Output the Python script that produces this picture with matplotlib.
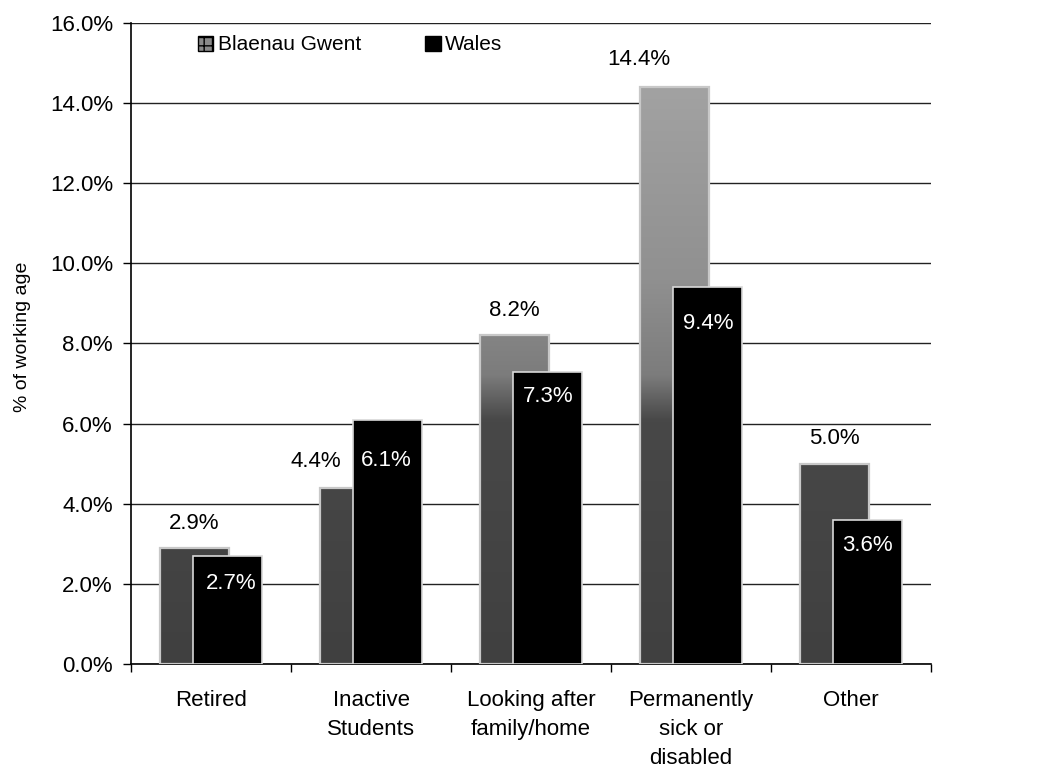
import numpy as np
import matplotlib
matplotlib.use("Agg")
import matplotlib.pyplot as plt
from matplotlib.colors import LinearSegmentedColormap
from matplotlib.patches import Patch

plt.rcParams["font.family"] = ["Liberation Sans", "DejaVu Sans"]

# Economic inactivity by reason, % of working-age population
categories = ["Retired", "Inactive\nStudents", "Looking after\nfamily/home",
              "Permanently\nsick or\ndisabled", "Other"]
blaenau_gwent = [2.9, 4.4, 8.2, 14.4, 5.0]
wales = [2.7, 6.1, 7.3, 9.4, 3.6]
series_names = ["Blaenau Gwent", "Wales"]
y_ticks = [0, 2, 4, 6, 8, 10, 12, 14, 16]

fig = plt.figure(figsize=(10.54, 7.7), dpi=100)
ax = fig.add_axes([0.1243, 0.1377, 0.7590, 0.8325])

x = np.arange(len(categories))
width = 0.43
shift = 0.105

# grey graded fill used by the Blaenau Gwent bars (lighter higher up)
grey_cmap = LinearSegmentedColormap.from_list(
    "bg_grey",
    [(0.0, "#404040"), (0.38, "#484848"), (0.45, "#7c7c7c"),
     (0.6, "#909090"), (1.0, "#a8a8a8")])

bg_bars = ax.bar(x - shift, blaenau_gwent, width, facecolor="none",
                 edgecolor="#c8c8c8", linewidth=1.6, zorder=3)
grad = np.linspace(0, 1, 256).reshape(-1, 1)
for bar in bg_bars:
    x0 = bar.get_x()
    im = ax.imshow(grad, extent=[x0, x0 + bar.get_width(), 0, 16],
                   origin="lower", aspect="auto", cmap=grey_cmap,
                   vmin=0, vmax=1, zorder=2.5, interpolation="bilinear")
    im.set_clip_path(bar)

w_bars = ax.bar(x + shift, wales, width, color="black",
                edgecolor="#d8d8d8", linewidth=1.2, zorder=4)

# value labels
label_size = 16
bg_offsets = [(0, 24), (-38, 26), (0, 25), (-35, 28), (0, 25)]
for xi, v, off in zip(x - shift, blaenau_gwent, bg_offsets):
    ax.annotate(f"{v:.1f}%", (xi, v), xytext=off, textcoords="offset pixels",
                ha="center", va="center", fontsize=label_size, color="black",
                zorder=5)

w_offsets = [(3, -28), (-2, -41), (0, -25), (0, -36), (0, -26)]
for xi, v, off in zip(x + shift, wales, w_offsets):
    ax.annotate(f"{v:.1f}%", (xi, v), xytext=off, textcoords="offset pixels",
                ha="center", va="center", fontsize=label_size, color="white",
                zorder=6)

# axes styling
ax.set_xlim(-0.5, len(categories) - 0.5)
ax.set_ylim(0, 16)
ax.set_yticks(y_ticks)
ax.set_yticklabels([f"{t:.1f}%" for t in y_ticks], fontsize=16)
ax.yaxis.grid(True, color="#222222", linewidth=1.0, zorder=0)
ax.set_axisbelow(True)
ax.tick_params(axis="y", direction="out", length=6, width=1, pad=7)

ax.set_xticks(x)
ax.set_xticklabels(categories, fontsize=16, linespacing=1.5)
ax.set_xticks(np.arange(-0.5, len(categories)), minor=True)
ax.tick_params(axis="x", which="major", length=0, pad=19)
ax.tick_params(axis="x", which="minor", direction="out", length=6, width=1)

for side in ("top", "right"):
    ax.spines[side].set_visible(False)
ax.spines["left"].set_linewidth(1.2)
ax.spines["bottom"].set_linewidth(1.2)

ax.set_ylabel("% of working age", fontsize=14)
ax.yaxis.set_label_coords(-0.125, 0.51)

handles = [Patch(facecolor="#8a8a8a", edgecolor="black", hatch="++"),
           Patch(facecolor="black", edgecolor="black")]
ax.legend(handles, series_names, loc="center left",
          bbox_to_anchor=(0.06, 0.9657), ncol=2, frameon=False, fontsize=15,
          handlelength=0.75, handleheight=0.75, handletextpad=0.2,
          columnspacing=3.1)

fig.savefig("out.png", dpi=100, facecolor="white")
